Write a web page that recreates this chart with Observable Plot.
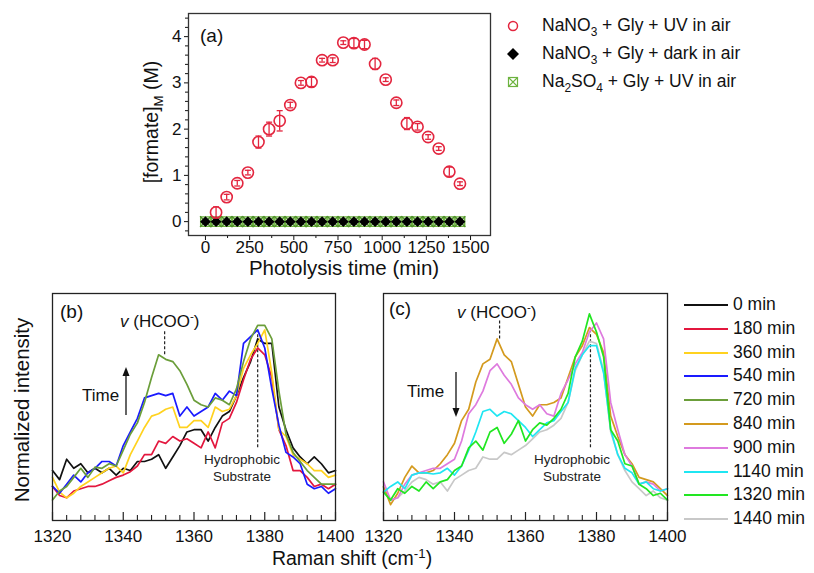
<!DOCTYPE html>
<html><head><meta charset="utf-8">
<script src="https://cdn.jsdelivr.net/npm/d3@7"></script>
<script src="https://cdn.jsdelivr.net/npm/@observablehq/plot@0.6"></script>
<style>
body{margin:0;background:#fff;font-family:"Liberation Sans",Arial,sans-serif;}
#root{position:relative;width:814px;height:573px;overflow:hidden;background:#fff;}
.abs{position:absolute;white-space:nowrap;color:#111;line-height:1;}
.abs sub,.abs sup{font-size:68%;line-height:0;}
svg{overflow:visible}
</style></head><body><div id="root"></div>
<script>
// ---------- Panel (a) data ----------
const timeUV = [60,120,180,240,300,360,420,480,540,600,660,720,780,840,900,960,1020,1080,1140,1200,1260,1320,1380,1440];
const formateUV = [0.20,0.53,0.83,1.06,1.72,2.00,2.18,2.52,3.00,3.02,3.49,3.49,3.87,3.86,3.83,3.41,3.07,2.57,2.12,2.05,1.83,1.58,1.08,0.82];
const formateErr = [0.12,0.06,0.06,0.05,0.13,0.15,0.22,0.06,0.05,0.10,0.04,0.05,0.04,0.10,0.09,0.12,0.04,0.06,0.13,0.07,0.05,0.04,0.10,0.04];
const timeCtrl = [0,60,120,180,240,300,360,420,480,540,600,660,720,780,840,900,960,1020,1080,1140,1200,1260,1320,1380,1440];
const formateDark = [0,0,0,0,0,0,0,0,0,0,0,0,0,0,0,0,0,0,0,0,0,0,0,0,0];
const formateSO4  = [0,0,0,0,0,0,0,0,0,0,0,0,0,0,0,0,0,0,0,0,0,0,0,0,0];
const xTicksA = [0,250,500,750,1000,1250,1500];
const xMinorA = [125,375,625,875,1125,1375];
const yTicksA = [0,1,2,3,4];

// ---------- Panels (b),(c) data ----------
const ramanShift = [1320,1322,1324,1326,1328,1330,1332,1334,1336,1338,1340,1342,1344,1346,1348,1350,1352,1354,1356,1358,1360,1362,1364,1366,1368,1370,1372,1374,1376,1378,1380,1382,1384,1386,1388,1390,1392,1394,1396,1398,1400];
const spec0    = [22,18,27,23,25,21,23,21,23,20,23,22,26,26,27,29,23,28,33,39,40,40,35,41,46,48,55,63,70,80,78,78,50,40,32,28,25,28,25,21,22];
const spec180  = [15,11,10,13,14,15,15,16,17.5,19,20,21.5,24,29,29,35,34,37,35,36,34,32,39,32,43,45,52,62,71,76,73,63,40,33,22,22,19,15,16,14,16];
const spec360  = [19,12.5,10,12,15,17,19,21,23,24,21,29,35,41,46,47,49,50,41,41,44,44,41,50,48,49,55,67,73,78,84,65,40,37,29,27,25,22,22,19,20];
const spec540  = [15,12,16,20,17,21,23,26,26,24,33,39,45,54,55,56,55,56,46,50,46,48,50,56,53,57,55,78,81,84,76,58,42,30,28,25,16,14,15,12,14];
const spec720  = [9,13,15,19,23,19,23.5,23,25,24,31,38,43,52,63,73,71,70,66,60,53,51,50,54,53,51,58,70,80,86,86,80,57,38,30,26,22,19,16,16,16];
const spec840  = [15,7,12,19,24,21,21,22,25,29,34,44,49,61,69,71,80,73,70,60,50,46,51,51,52,54,63,72,77,85,82,74,46,37,29,25,19,18,17,14,11];
const spec900  = [17,9,10,16,20,21,22,23,23,25,27,35,47,51,57,66,69,64,60,54,51,49,51,47,46,56,62,69,74,83,87,80,52,40,29,24,16,17,16,13,14];
const spec1140 = [12.5,15,17,14,20,21,21,20.5,21,23,20,24,31,39,48,49,46,48,47,44,41,37,40,43,44,48,52,67,73,77,77,65,40,29,23,21,16,17,14,13,14];
const spec1320 = [12.5,9,14,12,15,13,17,14,17,18,22,24,32,35,31,39,41,34,38,44,35,40,43,42,45,49,56,72,79,91,83,72,40,35,25,24,16,14,11,12,9];
const spec1440 = [14.5,9,10,13,17,19,18,16,17,13,18,20,22,23,28,27,27,30,29,31,33,36,39,40,42,45,52,66,73,79,78,66,39,29,22,17,14,11,13,10,9];
const seriesLabels = ["0 min","180 min","360 min","540 min","720 min","840 min","900 min","1140 min","1320 min","1440 min"];
const seriesColors = ["#111111","#e3173e","#ffd21f","#1a1aff","#6b9e3a","#d49a1e","#de7ade","#1fe6f2","#22e622","#c8c8c8"];
const seriesValues = [spec0,spec180,spec360,spec540,spec720,spec840,spec900,spec1140,spec1320,spec1440];
const ramanTicks = [1320,1340,1360,1380,1400];
const ramanMinor = [1324,1328,1332,1336,1344,1348,1352,1356,1364,1368,1372,1376,1384,1388,1392,1396];
// annotation peak positions (cm-1) with dashed-line intensity span
const peakB = [{x:1351.7,y1:73,y2:84},{x:1378,y1:32,y2:83}];
const peakC = [{x:1352.7,y1:80,y2:88},{x:1378.3,y1:32,y2:85}];

const root = document.getElementById("root");
const FONT = "Liberation Sans, Arial, sans-serif";

function txt(html, x, y, {size=17, anchor="start", rotate=0, style=""}={}) {
  const d = document.createElement("div");
  d.className = "abs"; d.innerHTML = html;
  d.style.cssText += style;
  d.style.fontSize = size + "px";
  d.style.left = x + "px"; d.style.top = y + "px";
  const tx = anchor === "middle" ? "-50%" : anchor === "end" ? "-100%" : "0";
  d.style.transform = `translate(${tx},-50%)` + (rotate ? ` rotate(${rotate}deg)` : "");
  root.appendChild(d);
}
function put(el, x, y) {
  el.style.position = "absolute"; el.style.left = x + "px"; el.style.top = y + "px";
  root.appendChild(el);
}

// ---------- Panel (a) ----------
const dataUV = timeUV.map((t,i) => ({t, v: formateUV[i], e: formateErr[i]}));
const dataDark = timeCtrl.map((t,i) => ({t, v: formateDark[i]}));
const dataSO4 = timeCtrl.map((t,i) => ({t, v: formateSO4[i]}));
const capSymbol = {draw(ctx, size){ const w = Math.sqrt(size)/2; ctx.moveTo(-w,0); ctx.lineTo(w,0); }};
const red = "#e3263f", grn = "#6db33f";

const plotA = Plot.plot({
  width: 500, height: 290,
  marginLeft: 188, marginRight: 10, marginTop: 13, marginBottom: 55,
  x: {domain: [-96, 1613]},
  y: {domain: [-0.3, 4.5]},
  style: {fontFamily: FONT, fontSize: "17px", color: "#111", background: "transparent", overflow: "visible"},
  marks: [
    Plot.axisX({ticks: xTicksA, tickFormat: d => String(d), tickSize: 5, tickPadding: 0, label: null, fontSize: 17}),
    Plot.axisX({ticks: xMinorA, tickFormat: () => "", tickSize: 3, label: null}),
    Plot.axisY({ticks: yTicksA, tickFormat: d => String(d), tickSize: 4, tickPadding: 3, label: null, fontSize: 17}),
    Plot.axisY({ticks: d3.range(-0.2, 4.5, 0.2).filter(v => Math.abs(v - Math.round(v)) > 0.05), tickFormat: () => "", tickSize: 3, label: null}),
    Plot.frame({stroke: "#333", strokeWidth: 1.3}),
    Plot.dot(dataSO4, {x: "t", y: "v", symbol: "square", r: 5.4, stroke: grn, strokeWidth: 1.4, fill: "none"}),
    Plot.dot(dataSO4, {x: "t", y: "v", symbol: "times", r: 5, stroke: "#4f8f2a", strokeWidth: 1.3}),
    Plot.dot(dataDark, {x: "t", y: "v", symbol: "diamond2", r: 4.9, fill: "#000", stroke: "none"}),
    Plot.ruleX(dataUV, {x: "t", y1: d => d.v - d.e, y2: d => d.v + d.e, stroke: red, strokeWidth: 1.3}),
    Plot.dot(dataUV, {x: "t", y: d => d.v + d.e, symbol: capSymbol, r: 3.4, stroke: red, strokeWidth: 1.3}),
    Plot.dot(dataUV, {x: "t", y: d => d.v - d.e, symbol: capSymbol, r: 3.4, stroke: red, strokeWidth: 1.3}),
    Plot.dot(dataUV, {x: "t", y: "v", r: 5.6, stroke: red, strokeWidth: 1.6, fill: "none"})
  ]
});
put(plotA, 0, 0);

txt("(a)", 200, 35, {size: 19});
txt("Photolysis time (min)", 344, 268, {size: 20.5, anchor: "middle"});
txt("[formate]<sub>M</sub> (M)", 152, 122, {size: 19.5, anchor: "middle", rotate: -90});

// legend (a)
const legA = [
  {sym: `<circle cx="8" cy="8" r="4.5" fill="none" stroke="${red}" stroke-width="1.5"/>`, html: "NaNO<sub>3</sub> + Gly + UV in air"},
  {sym: `<path d="M8 2 L14 8 L8 14 L2 8 Z" fill="#000"/>`, html: "NaNO<sub>3</sub> + Gly + dark in air"},
  {sym: `<rect x="3.5" y="3.5" width="9" height="9" fill="none" stroke="${grn}" stroke-width="1.2"/><path d="M3.5 3.5 L12.5 12.5 M12.5 3.5 L3.5 12.5" stroke="${grn}" stroke-width="1.1"/>`, html: "Na<sub>2</sub>SO<sub>4</sub> + Gly + UV in air"}
];
legA.forEach((r, i) => {
  const y = 26 + i * 28;
  const s = document.createElementNS("http://www.w3.org/2000/svg", "svg");
  s.setAttribute("width", 16); s.setAttribute("height", 16);
  s.innerHTML = r.sym;
  put(s, 505, y - 8);
  txt(r.html, 542, y, {size: 17.5});
});

// ---------- Panels (b), (c) ----------
function specPlot(indices, marginLeft, width, peaks) {
  const marks = [
    Plot.axisX({ticks: ramanTicks, tickFormat: d => String(d), tickSize: 0, tickPadding: 9, label: null, fontSize: 17}),
    Plot.tickX(ramanTicks, {x: d => d, insetTop: 227 - 8, stroke: "#222", strokeWidth: 1.2}),
    Plot.tickX(ramanMinor, {x: d => d, insetTop: 227 - 5, stroke: "#222", strokeWidth: 1.1}),
    Plot.ruleX(peaks, {x: "x", y1: "y1", y2: "y2", stroke: "#222", strokeWidth: 1.2, strokeDasharray: "3,2"})
  ];
  indices.forEach(i => {
    const data = ramanShift.map((x, j) => ({x, v: seriesValues[i][j]}));
    marks.push(Plot.line(data, {x: "x", y: "v", stroke: seriesColors[i], strokeWidth: 1.7, curve: "linear"}));
  });
  marks.push(Plot.frame({stroke: "#222", strokeWidth: 1.3}));
  return Plot.plot({
    width, height: 290,
    marginLeft, marginRight: width - marginLeft - (indices[0] < 5 ? 283 : 284), marginTop: 10, marginBottom: 53,
    x: {domain: [1320, 1400]},
    y: {domain: [0, 100], axis: null},
    style: {fontFamily: FONT, fontSize: "17px", color: "#111", background: "transparent", overflow: "visible"},
    marks
  });
}
const plotB = specPlot([0,1,2,3,4], 52, 345, peakB);
put(plotB, 0, 283);
const plotC = specPlot([9,5,6,7,8], 23, 317, peakC);
put(plotC, 360, 283);

txt("(b)", 60, 311, {size: 19});
txt("(c)", 389, 308, {size: 19});
txt("<i>v</i> (HCOO<sup>-</sup>)", 120, 321, {size: 17});
txt("<i>v</i> (HCOO<sup>-</sup>)", 457, 312, {size: 17});
txt("Time", 82, 395, {size: 17});
txt("Time", 407, 391, {size: 17});
txt("Hydrophobic", 242, 460, {size: 13.5, anchor: "middle", style: "color:#222;"});
txt("Substrate", 242, 477, {size: 13.5, anchor: "middle", style: "color:#222;"});
txt("Hydrophobic", 572, 460, {size: 13.5, anchor: "middle", style: "color:#222;"});
txt("Substrate", 572, 477, {size: 13.5, anchor: "middle", style: "color:#222;"});
txt("Normalized intensity", 22, 410, {size: 20.5, anchor: "middle", rotate: -90});
txt("Raman shift (cm<sup>-1</sup>)", 352, 559, {size: 19.5, anchor: "middle"});

// time arrows
const ov = document.createElementNS("http://www.w3.org/2000/svg", "svg");
ov.setAttribute("width", 814); ov.setAttribute("height", 573);
ov.style.pointerEvents = "none";
ov.innerHTML = `
  <line x1="126" y1="415" x2="126" y2="372" stroke="#111" stroke-width="1.3"/>
  <path d="M126 367 L122.5 376 L129.5 376 Z" fill="#111"/>
  <line x1="456" y1="372" x2="456" y2="412" stroke="#111" stroke-width="1.3"/>
  <path d="M456 417 L452.5 408 L459.5 408 Z" fill="#111"/>`;
put(ov, 0, 0);

// legend (b)/(c)
seriesLabels.forEach((lab, i) => {
  const y = 305 + i * 23.8;
  const s = document.createElementNS("http://www.w3.org/2000/svg", "svg");
  s.setAttribute("width", 46); s.setAttribute("height", 4);
  s.innerHTML = `<line x1="0" y1="2" x2="44" y2="2" stroke="${seriesColors[i]}" stroke-width="2"/>`;
  put(s, 684, y - 2);
  txt(lab, 733, y, {size: 17.5});
});
</script></body></html>
